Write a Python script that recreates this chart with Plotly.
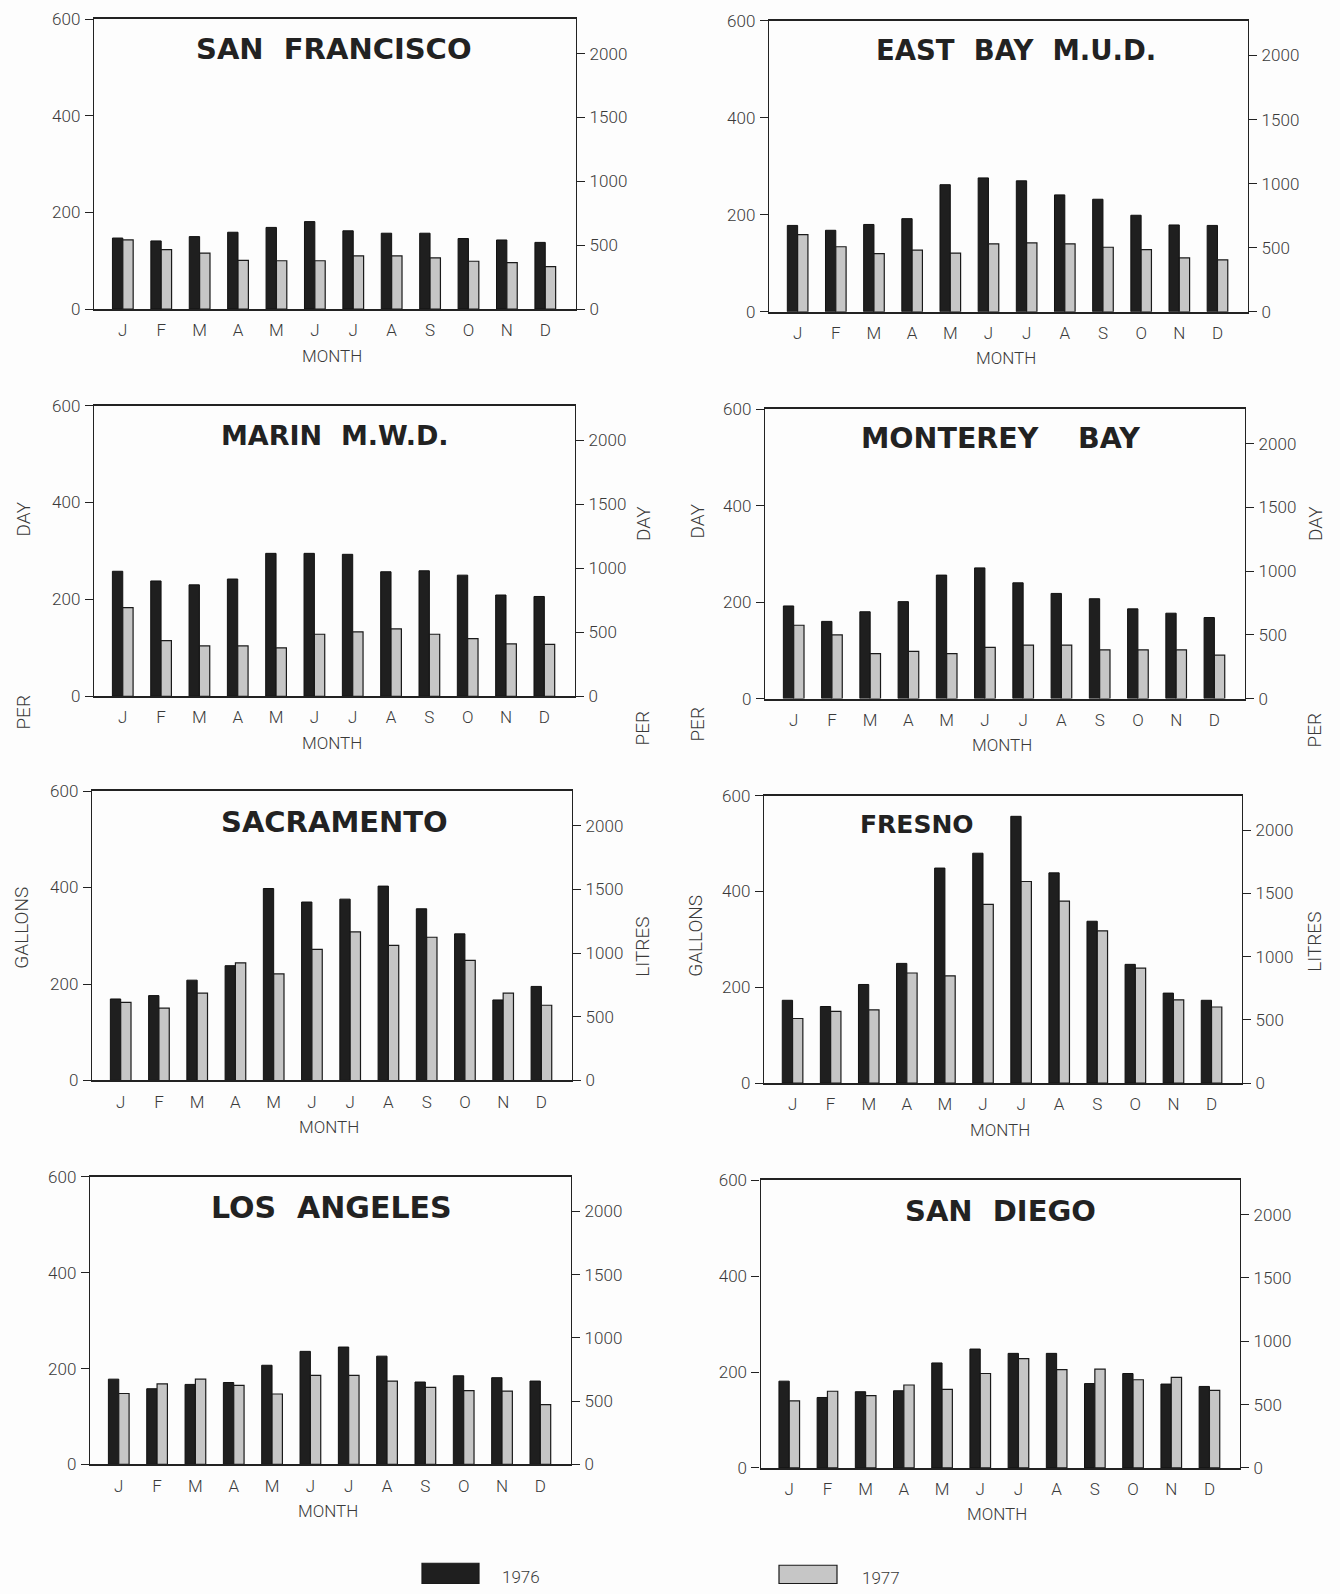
import plotly.graph_objects as go

# ---------------- data (gallons per capita per day) ----------------
months = ["J", "F", "M", "A", "M", "J", "J", "A", "S", "O", "N", "D"]
month_idx = list(range(12))

panel_names = ["SAN  FRANCISCO", "EAST  BAY  M.U.D.", "MARIN  M.W.D.", "MONTEREY    BAY",
               "SACRAMENTO", "FRESNO", "LOS  ANGELES", "SAN  DIEGO"]

sf_1976 = [147, 141, 150, 159, 169, 181, 162, 157, 157, 146, 143, 138]
sf_1977 = [143, 123, 116, 101, 100, 100, 110, 110, 106, 99, 96, 88]

eb_1976 = [178, 168, 180, 192, 262, 276, 270, 241, 232, 199, 179, 178]
eb_1977 = [159, 134, 120, 127, 121, 140, 142, 140, 133, 128, 111, 107]

marin_1976 = [258, 238, 230, 242, 295, 295, 293, 257, 259, 250, 209, 206]
marin_1977 = [183, 115, 104, 104, 100, 128, 133, 139, 128, 119, 108, 107]

monterey_1976 = [192, 160, 180, 201, 256, 271, 240, 218, 207, 186, 177, 168]
monterey_1977 = [152, 132, 93, 98, 93, 106, 111, 111, 101, 101, 101, 90]

sac_1976 = [169, 176, 208, 238, 398, 370, 376, 403, 356, 304, 167, 195]
sac_1977 = [162, 150, 181, 244, 221, 272, 308, 280, 297, 249, 181, 156]

fresno_1976 = [173, 160, 206, 250, 449, 480, 557, 439, 338, 248, 188, 173]
fresno_1977 = [135, 150, 153, 230, 224, 373, 421, 380, 318, 240, 174, 159]

la_1976 = [178, 158, 167, 171, 207, 236, 245, 226, 172, 185, 181, 174]
la_1977 = [148, 168, 178, 165, 147, 186, 186, 174, 161, 154, 153, 125]

sd_1976 = [181, 147, 159, 161, 219, 248, 239, 239, 176, 197, 175, 170]
sd_1977 = [140, 160, 151, 173, 164, 197, 228, 205, 206, 184, 189, 162]

series_1976 = [sf_1976, eb_1976, marin_1976, monterey_1976, sac_1976, fresno_1976, la_1976, sd_1976]
series_1977 = [sf_1977, eb_1977, marin_1977, monterey_1977, sac_1977, fresno_1977, la_1977, sd_1977]

left_ticks = [0, 200, 400, 600]
right_ticks = [0, 500, 1000, 1500, 2000]
LITRES_PER_GALLON = 3.785
GMAX = 600

# ---------------- layout geometry (pixels) ----------------
W, H = 1340, 1594

# (left, right, top, bottom) of plot frame
frames = [
    (94, 576, 9.2, 302.9),
    (769, 1248, 10.9, 305.6),
    (94, 575, 400.6, 695),
    (765, 1245, 404.3, 697.3),
    (92, 572, 791, 1084.1),
    (764, 1242, 795.7, 1086.8),
    (90, 571, 1181.8, 1472.9),
    (760.6, 1240, 1185.1, 1476.5),
]
titles = [  # x, y, font size
    (334, 39.1, 29), (1016, 40.8, 27.5), (335, 430.6, 27), (1000, 434.3, 28.5),
    (334, 822.7, 29), (916.5, 825, 25), (331, 1212.8, 30), (1000, 1216.1, 29),
]


def px(x):
    return x / W


def py(y):
    return 1 - y / H


DARK = "#1f1f1f"
LIGHT = "#c6c6c6"
INK = "#222222"
TXT = "#3a3a3a"
TICKFONT = dict(family="Roboto, Liberation Sans, Arial", size=17, color=TXT, weight=300)

fig = go.Figure()
layout = {}
annotations = []

for k in range(8):
    n = k + 1
    L, R, T, B = frames[k]
    xa = "x" if n == 1 else f"x{n}"
    ya = "y" if n == 1 else f"y{n}"
    yr = f"y{n + 8}"

    fig.add_trace(go.Bar(x=month_idx, y=series_1976[k], xaxis=xa, yaxis=ya,
                         marker=dict(color=DARK, line=dict(color="#111111", width=1)),
                         name="1976", showlegend=False, offsetgroup="a"))
    fig.add_trace(go.Bar(x=month_idx, y=series_1977[k], xaxis=xa, yaxis=ya,
                         marker=dict(color=LIGHT, line=dict(color="#1a1a1a", width=1.2)),
                         name="1977", showlegend=False, offsetgroup="b"))
    # litres axis companion (invisible)
    fig.add_trace(go.Scatter(x=[0], y=[series_1976[k][0] * LITRES_PER_GALLON], xaxis=xa, yaxis=yr,
                             mode="markers", marker=dict(opacity=0), showlegend=False,
                             hoverinfo="skip"))

    layout["xaxis" if n == 1 else f"xaxis{n}"] = dict(
        domain=[px(L), px(R)], anchor=ya, range=[-0.75, 11.8],
        tickmode="array", tickvals=month_idx, ticktext=months,
        ticks="", ticklabelstandoff=5, tickfont=TICKFONT,
        showline=True, linecolor=INK, linewidth=1.6, mirror=True,
        showgrid=False, zeroline=False, fixedrange=True)
    layout["yaxis" if n == 1 else f"yaxis{n}"] = dict(
        domain=[py(B), py(T)], anchor=xa, range=[0, GMAX],
        tickmode="array", tickvals=left_ticks, ticks="outside", ticklen=8,
        tickcolor=INK, tickwidth=1, tickfont=TICKFONT, ticklabelstandoff=1,
        showline=True, linecolor=INK, linewidth=1.4,
        showgrid=False, zeroline=False, fixedrange=True)
    layout[f"yaxis{n + 8}"] = dict(
        overlaying=ya, anchor=xa, side="right", range=[0, GMAX * LITRES_PER_GALLON],
        tickmode="array", tickvals=right_ticks, ticks="outside", ticklen=8,
        tickcolor=INK, tickwidth=1, tickfont=TICKFONT, ticklabelstandoff=1,
        showline=True, linecolor=INK, linewidth=1.4,
        showgrid=False, zeroline=False, fixedrange=True)

    tx, ty, ts = titles[k]
    annotations.append(dict(text=panel_names[k], x=px(tx), y=py(ty), xref="paper", yref="paper",
                            showarrow=False, xanchor="center", yanchor="middle",
                            font=dict(family="DejaVu Sans, Liberation Sans, Arial", size=ts,
                                      color=INK, weight="bold")))
    annotations.append(dict(text="MONTH", x=px((L + R) / 2 - 3), y=py(B + 47), xref="paper", yref="paper",
                            showarrow=False, xanchor="center", yanchor="middle",
                            font=TICKFONT))

# side labels
side = [
    ("DAY", 23.5, 515.5), ("PER", 23.5, 711), ("DAY", 643, 520.6), ("PER", 643, 727.7),
    ("DAY", 698, 518), ("PER", 698, 723.7), ("DAY", 1315, 520.6), ("PER", 1315, 729.7),
    ("GALLONS", 21.4, 929), ("LITRES", 643, 948.7), ("GALLONS", 695.6, 938), ("LITRES", 1315, 943.7),
]
for txt, x, y in side:
    annotations.append(dict(text=txt, x=px(x), y=py(y), xref="paper", yref="paper",
                            showarrow=False, textangle=-90, xanchor="center", yanchor="middle",
                            font=dict(family="Roboto, Liberation Sans, Arial", size=19, color=TXT, weight=300)))

# legend
legend_items = [("1976", DARK, (422, 1573, 479, 1593.5), (521, 1587)),
                ("1977", LIGHT, (779, 1575, 837, 1593.5), (881, 1588))]
shapes = []
for label, col, (x0, y0, x1, y1), (lx, ly) in legend_items:
    shapes.append(dict(type="rect", xref="paper", yref="paper", x0=px(x0), x1=px(x1), y0=py(y1), y1=py(y0),
                       fillcolor=col, line=dict(color="#1a1a1a", width=1.2)))
    annotations.append(dict(text=label, x=px(lx), y=py(ly), xref="paper", yref="paper",
                            showarrow=False, xanchor="center", yanchor="middle", font=TICKFONT))

fig.update_layout(**layout)
fig.update_layout(width=W, height=H, margin=dict(l=0, r=0, t=0, b=0),
                  paper_bgcolor="#fdfdfd", plot_bgcolor="rgba(0,0,0,0)",
                  barmode="group", bargap=0.46, bargroupgap=0.0,
                  annotations=annotations, shapes=shapes, showlegend=False)

fig.write_html("out.html", config={"displayModeBar": False},
               post_script="document.body.style.margin='0';document.body.style.overflow='hidden';")
